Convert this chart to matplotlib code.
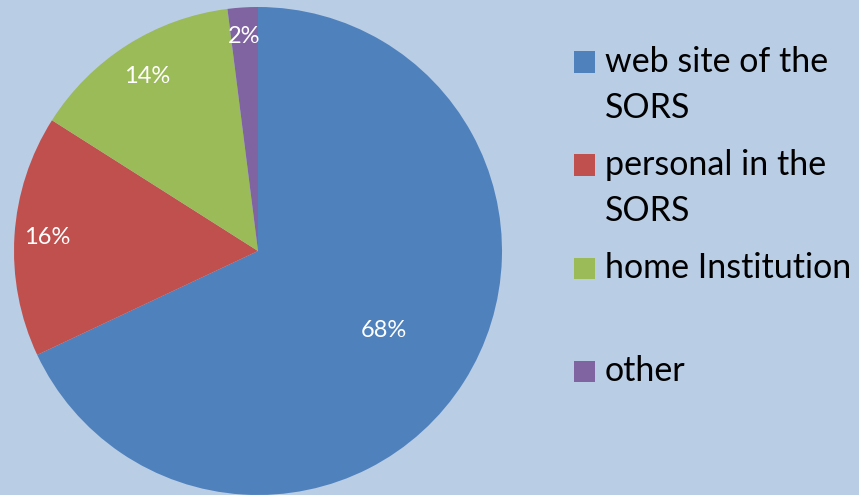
import numpy as np
import matplotlib.pyplot as plt
from matplotlib.patches import Rectangle

# data
categories = ["web site of the\nSORS", "personal in the\nSORS", "home Institution", "other"]
shares = [68, 16, 14, 2]
colors = ["#4F81BD", "#C0504D", "#9BBB59", "#8064A2"]
label_dist = [0.61, 0.865, 0.845, 0.88]  # where the % labels sit along the radius

bg = "#B9CDE5"
W, H = 859, 495
fig = plt.figure(figsize=(W / 100, H / 100), dpi=100, facecolor=bg)

# pie axes: centre (258, 251) px from top-left, radius 244 px
cx, cy, r = 258, 251, 244
ax = fig.add_axes([(cx - r) / W, (H - cy - r) / H, 2 * r / W, 2 * r / H])
ax.set_facecolor(bg)
wedges, _ = ax.pie(shares, colors=colors, startangle=90, counterclock=False,
                   wedgeprops=dict(linewidth=0))
ax.set_xlim(-1, 1)
ax.set_ylim(-1, 1)
ax.set_aspect("equal")
ax.axis("off")

for w, v, d in zip(wedges, shares, label_dist):
    ang = np.deg2rad((w.theta1 + w.theta2) / 2)
    ax.text(d * np.cos(ang), d * np.sin(ang), f"{v}%", color="white",
            fontsize=17, family="Lato", ha="center", va="center")

# legend drawn by hand so the box sits next to the first line
sq = 21
x_box, x_txt = 574, 605
first_base = 72
step = 103
line_h = 46
for i, (lab, c) in enumerate(zip(categories, colors)):
    base = first_base + i * step
    fig.add_artist(Rectangle((x_box / W, 1 - (base - 10 + sq / 2) / H), sq / W, sq / H,
                             transform=fig.transFigure, color=c, lw=0))
    for j, line in enumerate(lab.split("\n")):
        fig.text(x_txt / W, 1 - (base + j * line_h) / H, line, fontsize=24.5,
                 family="Lato", color="black", ha="left", va="baseline")

fig.savefig("out.png", dpi=100, facecolor=bg)
